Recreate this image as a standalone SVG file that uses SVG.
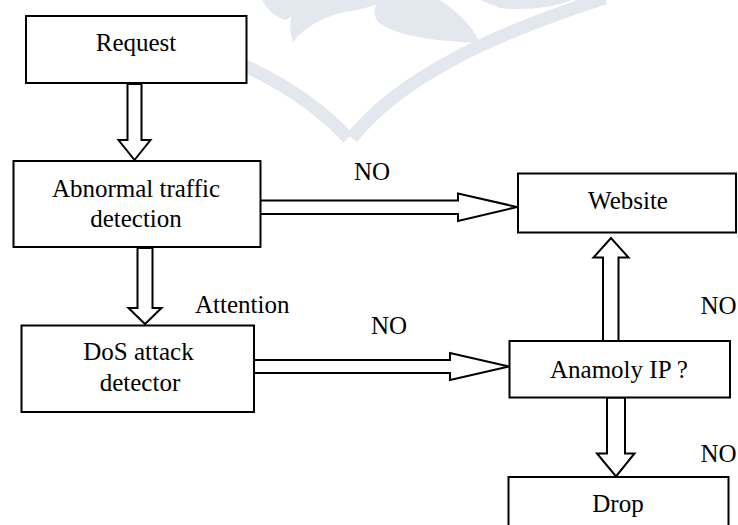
<svg xmlns="http://www.w3.org/2000/svg" width="738" height="525" viewBox="0 0 738 525">
<rect width="738" height="525" fill="#fff"/>
<g id="watermark" fill="#e3e8ee">
<path d="M236 62 Q305 92 348 138" fill="none" stroke="#e3e8ee" stroke-width="13"/>
<path d="M352 138 Q415 58 605 -2" fill="none" stroke="#e3e8ee" stroke-width="13"/>
<path d="M293 42 Q310 20 345 12 Q372 8 385 0 L300 0 Q285 20 293 42 Z"/>
<path d="M378 22 Q400 40 480 43 Q470 20 440 0 L380 0 Q370 10 378 22 Z"/>
<path d="M262 0 L305 0 Q300 15 285 20 Q270 15 262 0 Z"/>
<path d="M480 0 L572 0 Q540 12 500 8 Z"/>
</g>
<g id="connectors" fill="#fff" stroke="#000" stroke-width="2">
<polygon points="127.5,84 141.5,84 141.5,140 150.5,140 134.5,160 118.5,140 127.5,140"/>
<polygon points="137.5,248 152.5,248 152.5,308 161.5,308 145,324 128.5,308 137.5,308"/>
<polygon points="260,200.5 458,200.5 458,193.5 517,207 458,221 458,214 260,214"/>
<polygon points="254,360 450,360 450,353 509,366.5 450,380 450,373 254,373"/>
<polygon points="603,341 603,257.5 593.5,257.5 611,238 628.5,257.5 618.5,257.5 618.5,341"/>
<polygon points="607,397.5 625,397.5 625,453.5 634.5,453.5 616,476.5 597,453.5 607,453.5"/>
</g>
<g id="n-request">
<rect x="26" y="16" width="220.5" height="67" fill="#fff" stroke="#000" stroke-width="2"/>
<text x="136" y="51" text-anchor="middle" font-family="Liberation Serif" font-size="25">Request</text>
</g>
<g id="n-abnormal">
<rect x="13.5" y="161" width="247" height="86" fill="#fff" stroke="#000" stroke-width="2"/>
<text x="136" y="196.5" text-anchor="middle" font-family="Liberation Serif" font-size="25">Abnormal traffic</text>
<text x="136" y="226.5" text-anchor="middle" font-family="Liberation Serif" font-size="25">detection</text>
</g>
<g id="n-dos">
<rect x="21.5" y="325.5" width="232.5" height="86.5" fill="#fff" stroke="#000" stroke-width="2"/>
<text x="138.5" y="360" text-anchor="middle" font-family="Liberation Serif" font-size="25">DoS attack</text>
<text x="140" y="391" text-anchor="middle" font-family="Liberation Serif" font-size="25">detector</text>
</g>
<g id="n-website">
<rect x="518" y="173.5" width="218" height="59" fill="#fff" stroke="#000" stroke-width="2"/>
<text x="628" y="209" text-anchor="middle" font-family="Liberation Serif" font-size="25">Website</text>
</g>
<g id="n-anamoly">
<rect x="509.5" y="341" width="220.5" height="56.5" fill="#fff" stroke="#000" stroke-width="2"/>
<text x="619" y="378" text-anchor="middle" font-family="Liberation Serif" font-size="25">Anamoly IP ?</text>
</g>
<g id="n-drop">
<rect x="508.5" y="477" width="220" height="60" fill="#fff" stroke="#000" stroke-width="2"/>
<text x="618" y="512" text-anchor="middle" font-family="Liberation Serif" font-size="25">Drop</text>
</g>
<g id="labels">
<text x="372" y="179.5" text-anchor="middle" font-family="Liberation Serif" font-size="25">NO</text>
<text x="389" y="333.5" text-anchor="middle" font-family="Liberation Serif" font-size="25">NO</text>
<text x="718.5" y="313.5" text-anchor="middle" font-family="Liberation Serif" font-size="25">NO</text>
<text x="718.5" y="461.5" text-anchor="middle" font-family="Liberation Serif" font-size="25">NO</text>
<text x="195" y="313" font-family="Liberation Serif" font-size="25">Attention</text>
</g>
</svg>
